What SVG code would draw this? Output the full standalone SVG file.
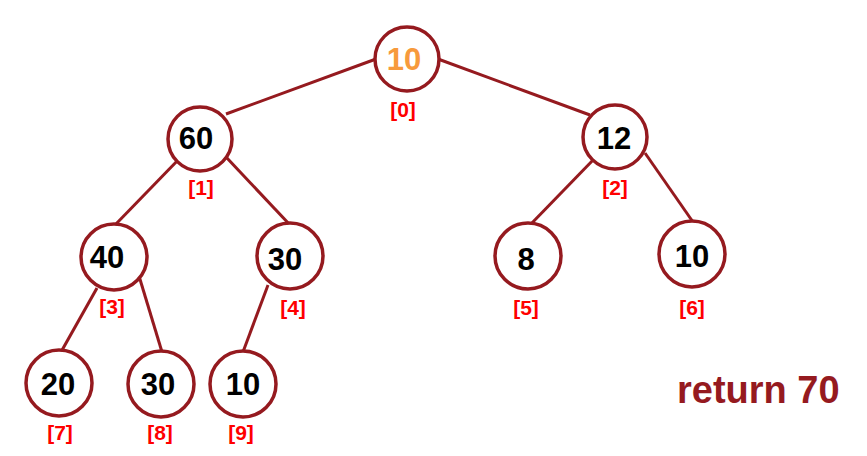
<svg xmlns="http://www.w3.org/2000/svg" width="867" height="456" viewBox="0 0 867 456">
<style>
.edge{stroke:#951A1F;stroke-width:3;fill:none}
.node circle{fill:#fff;stroke:#951A1F;stroke-width:3.5}
.val{font-family:"Liberation Sans",Arial,sans-serif;font-weight:bold;font-size:31px;fill:#000;text-anchor:middle}
.idx{font-family:"Liberation Sans",Arial,sans-serif;font-weight:bold;font-size:21px;fill:#FF0000;text-anchor:middle}
.ret{font-family:"Liberation Sans",Arial,sans-serif;font-weight:bold;font-size:38px;fill:#951A1F}
</style>
<rect width="867" height="456" fill="#fff"/>
<g id="connectors">
<line class="edge" x1="376" y1="59" x2="226" y2="114"/>
<line class="edge" x1="438" y1="59" x2="590" y2="115"/>
<line class="edge" x1="180" y1="158" x2="115" y2="225"/>
<line class="edge" x1="226" y1="157" x2="291" y2="226"/>
<line class="edge" x1="595" y1="158" x2="530" y2="225"/>
<line class="edge" x1="645" y1="153" x2="693" y2="222"/>
<line class="edge" x1="97" y1="288" x2="61" y2="352"/>
<line class="edge" x1="139" y1="276" x2="162" y2="352"/>
<line class="edge" x1="268" y1="285" x2="243" y2="352"/>
</g>
<g id="n0" class="node"><circle cx="407" cy="59" r="32"/><text class="val" x="404" y="70" style="fill:#F79A3C">10</text><text class="idx" x="403" y="117">[0]</text></g>
<g id="n1" class="node"><circle cx="200" cy="139" r="32"/><text class="val" x="196" y="149">60</text><text class="idx" x="201" y="195">[1]</text></g>
<g id="n2" class="node"><circle cx="615" cy="137" r="32"/><text class="val" x="614" y="149">12</text><text class="idx" x="615" y="195">[2]</text></g>
<g id="n3" class="node"><circle cx="114" cy="257" r="33"/><text class="val" x="107" y="268">40</text><text class="idx" x="112" y="314">[3]</text></g>
<g id="n4" class="node"><circle cx="290" cy="256" r="33"/><text class="val" x="285" y="270">30</text><text class="idx" x="293" y="315">[4]</text></g>
<g id="n5" class="node"><circle cx="528" cy="256" r="33"/><text class="val" x="526" y="270">8</text><text class="idx" x="526" y="315">[5]</text></g>
<g id="n6" class="node"><circle cx="692" cy="254" r="33"/><text class="val" x="692" y="267">10</text><text class="idx" x="692" y="315">[6]</text></g>
<g id="n7" class="node"><circle cx="59" cy="383" r="33"/><text class="val" x="58" y="395">20</text><text class="idx" x="60" y="440">[7]</text></g>
<g id="n8" class="node"><circle cx="161" cy="384" r="33"/><text class="val" x="158" y="395">30</text><text class="idx" x="160" y="440">[8]</text></g>
<g id="n9" class="node"><circle cx="243" cy="384" r="33"/><text class="val" x="243" y="395">10</text><text class="idx" x="241" y="440">[9]</text></g>
<text class="ret" x="677" y="403">return 70</text>
</svg>
